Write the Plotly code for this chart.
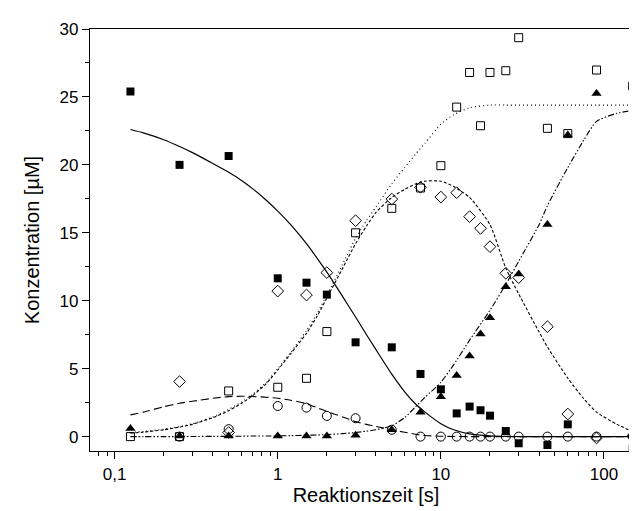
import plotly.graph_objects as go

# sampling times [s]
t = [0.125, 0.25, 0.5, 1, 1.5, 2, 3, 5, 7.5, 10, 12.5, 15, 17.5, 20, 25, 30, 45, 60, 90, 150]

# measured concentrations [uM]
filled_sq = [25.4, 20.0, 20.65, 11.65, 11.33, 10.45, 6.94, 6.57, 4.61, 3.48, 1.71, 2.21, 1.94, 1.54, 0.41, -0.49, -0.62, 0.9, None, -0.9]
open_sq = [0.0, 0.0, 3.36, 3.63, 4.29, 7.73, 15.0, 16.8, 18.3, 19.94, 24.25, 26.8, 22.88, 26.8, 26.93, 29.36, 22.69, 22.3, 26.98, 25.8]
diamond = [None, 4.05, 0.3, 10.71, 10.42, 12.07, 15.89, 17.48, 18.35, 17.63, 17.95, 16.19, 15.33, 13.98, 12.02, 11.7, 8.09, 1.66, -0.1, 0.05]
circle = [None, 0.0, 0.55, 2.25, 2.13, 1.52, 1.35, 0.5, 0.0, 0.0, 0.0, 0.0, 0.0, 0.0, 0.0, 0.0, 0.0, 0.0, 0.0, 0.0]
triangle = [0.6, 0.05, 0.05, 0.05, 0.05, 0.05, 0.1, 0.5, 1.79, 2.94, 4.49, 5.93, 7.55, 8.75, 11.03, 11.97, 15.62, 22.2, 25.26, 25.87]

# fitted curves
fit_t = [0.125, 0.15, 0.2, 0.25, 0.3, 0.4, 0.5, 0.6, 0.7, 0.85, 1, 1.2, 1.5, 1.75, 2, 2.5, 3, 3.5, 4, 5, 6, 7, 8, 10, 12, 15, 20, 25, 30, 40, 45, 60, 75, 90, 120, 150]
fit_filled_sq = [22.6, 22.35, 21.85, 21.35, 20.9, 20.1, 19.45, 18.85, 18.25, 17.4, 16.6, 15.6, 14.2, 13.1, 12.1, 10.3, 8.8, 7.5, 6.4, 4.6, 3.3, 2.4, 1.8, 0.95, 0.5, 0.2, 0.05, 0.02, 0.0, 0.0, 0.0, 0.0, 0.0, 0.0, 0.0, 0.0]
fit_open_sq = [0.3, 0.38, 0.55, 0.74, 0.95, 1.45, 2.0, 2.55, 3.1, 4.0, 5.0, 6.2, 7.8, 9.1, 10.4, 12.7, 14.6, 15.9, 16.9, 18.6, 19.8, 20.8, 21.6, 23.0, 23.7, 24.2, 24.4, 24.4, 24.4, 24.4, 24.4, 24.4, 24.4, 24.4, 24.4, 24.4]
fit_diamond = [0.25, 0.33, 0.5, 0.7, 0.9, 1.4, 1.9, 2.45, 3.0, 3.9, 4.9, 6.1, 7.6, 8.9, 10.2, 12.4, 14.2, 15.5, 16.5, 17.6, 18.2, 18.6, 18.8, 18.8, 18.4, 17.6, 15.6, 12.4, 10.5, 7.7, 6.6, 4.3, 2.8, 1.8, 0.9, 0.37]
fit_circle = [1.6, 1.8, 2.2, 2.45, 2.6, 2.82, 2.94, 2.97, 2.95, 2.9, 2.82, 2.68, 2.42, 2.12, 1.85, 1.45, 1.1, 0.9, 0.75, 0.5, 0.32, 0.17, 0.08, 0.03, 0.01, 0.0, 0.0, 0.0, 0.0, 0.0, 0.0, 0.0, 0.0, 0.0, 0.0, 0.0]
fit_triangle = [0.0, 0.0, 0.0, 0.0, 0.01, 0.015, 0.02, 0.03, 0.04, 0.045, 0.05, 0.07, 0.1, 0.12, 0.15, 0.22, 0.3, 0.4, 0.5, 0.8, 1.4, 2.2, 2.9, 4.0, 5.3, 7.1, 9.3, 11.2, 12.9, 15.6, 17.0, 19.8, 21.8, 23.2, 23.8, 24.0]

x_ticks = [0.1, 1, 10, 100]
x_ticklabels = ["0,1", "1", "10", "100"]
x_minor = [0.07, 0.08, 0.09, 0.2, 0.3, 0.4, 0.5, 0.6, 0.7, 0.8, 0.9,
           2, 3, 4, 5, 6, 7, 8, 9, 20, 30, 40, 50, 60, 70, 80, 90, 150]
y_ticks = [0, 5, 10, 15, 20, 25, 30]

FONT = "Liberation Sans, Arial, sans-serif"
fig = go.Figure()

line_w = 1.1
fig.add_trace(go.Scatter(x=fit_t, y=fit_filled_sq, mode="lines", line=dict(color="black", width=1.2, shape="spline", smoothing=0.6), hoverinfo="skip"))
fig.add_trace(go.Scatter(x=fit_t, y=fit_open_sq, mode="lines", line=dict(color="black", width=line_w, dash="1px,3px", shape="spline", smoothing=0.6), hoverinfo="skip"))
fig.add_trace(go.Scatter(x=fit_t, y=fit_diamond, mode="lines", line=dict(color="black", width=line_w, dash="3px,2px", shape="spline", smoothing=0.6), hoverinfo="skip"))
fig.add_trace(go.Scatter(x=fit_t, y=fit_circle, mode="lines", line=dict(color="black", width=line_w, dash="8px,4px", shape="spline", smoothing=0.6), hoverinfo="skip"))
fig.add_trace(go.Scatter(x=fit_t, y=fit_triangle, mode="lines", line=dict(color="black", width=line_w, dash="6px,2px,1.5px,2px,1.5px,2px", shape="spline", smoothing=0.6), hoverinfo="skip"))

fig.add_trace(go.Scatter(x=t, y=open_sq, mode="markers", marker=dict(symbol="square-open", size=8, color="black", line=dict(width=1))))
fig.add_trace(go.Scatter(x=t, y=circle, mode="markers", marker=dict(symbol="circle-open", size=9, color="black", line=dict(width=1))))
fig.add_trace(go.Scatter(x=t, y=diamond, mode="markers", marker=dict(symbol="diamond-open", size=9, color="black", line=dict(width=1))))
fig.add_trace(go.Scatter(x=t, y=filled_sq, mode="markers", marker=dict(symbol="square", size=8, color="black")))
fig.add_trace(go.Scatter(x=t, y=triangle, mode="markers", marker=dict(symbol="triangle-up", size=9, color="black")))

fig.update_layout(
    width=637, height=511,
    margin=dict(l=82, r=3, t=21, b=68),
    paper_bgcolor="white", plot_bgcolor="white",
    showlegend=False,
    font=dict(family=FONT, size=17, color="black"),
)
fig.update_xaxes(
    type="log", range=[-1.151, 2.233],
    tickvals=x_ticks, ticktext=x_ticklabels,
    ticks="outside", ticklen=7, tickwidth=1.3, tickcolor="black",
    showline=True, linecolor="black", linewidth=1.3, mirror=True,
    showgrid=False, zeroline=False,
    tickfont=dict(size=17),
    minor=dict(tickvals=x_minor, ticks="outside", ticklen=4, tickwidth=1.2, tickcolor="black", showgrid=False),
    title=dict(text="Reaktionszeit [s]", font=dict(size=20), standoff=3),
)
fig.update_yaxes(
    range=[-1.06, 30],
    tickvals=y_ticks,
    ticks="outside", ticklen=7, tickwidth=1.3, tickcolor="black",
    showline=True, linecolor="black", linewidth=1.3, mirror=True,
    showgrid=False, zeroline=False,
    tickfont=dict(size=17),
    minor=dict(dtick=2.5, tick0=0, ticks="outside", ticklen=4, tickwidth=1.2, tickcolor="black", showgrid=False),
    title=dict(text="Konzentration [µM]", font=dict(size=20), standoff=14),
)
fig.write_html("out.html")
